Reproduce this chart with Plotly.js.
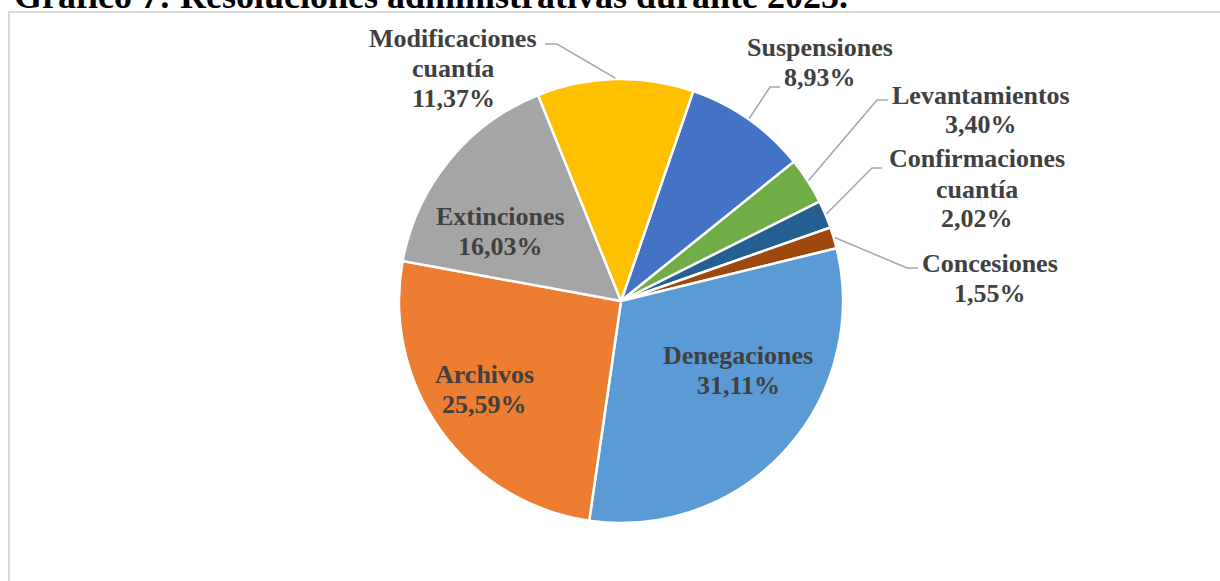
<!DOCTYPE html>
<html>
<head>
<meta charset="utf-8">
<script src="https://cdn.plot.ly/plotly-3.0.1.min.js"></script>
<style>html,body{margin:0;padding:0;background:#fff;}#chart{width:1220px;height:581px;}</style>
</head>
<body>
<div id="chart"></div>
<script>
// ---- data ----
const categories = ['Suspensiones', 'Levantamientos', 'Confirmaciones cuantía', 'Concesiones',
                    'Denegaciones', 'Archivos', 'Extinciones', 'Modificaciones cuantía'];
const values = [8.93, 3.40, 2.02, 1.55, 31.11, 25.59, 16.03, 11.37];
const titleText = 'Gráfico 7: Resoluciones administrativas durante 2025.';

// ---- styles / layout constants ----
const colors = ['#4472C4', '#70AD47', '#255E91', '#9E480E', '#5B9BD5', '#ED7D31', '#A5A5A5', '#FFC000'];
const W = 1220, H = 581;
const CX = 621, CY = 301, R = 222;     // pie centre / radius in px
const ROT = 19;                        // first slice start angle (deg, clockwise from 12 o'clock)
const LINE_GAP = 30;
// label block: centre x, first baseline y
const labelPos = [
  [820, 57], [981, 104], [977, 168], [990, 272],
  [738, 364], [484, 383], [500, 225], [453, 47]
];
// leader line elbows (null = inside label)
const elbows = [
  [[780, 87], [770, 87]],
  [[888, 100], [877, 100]],
  [[882, 168], [872, 168]],
  [[918, 268], [907, 268]],
  null, null, null,
  [[545, 44], [557, 44]]
];

const px = x => x / W;
const py = y => 1 - y / H;
const pct = v => v.toFixed(2).replace('.', ',') + '%';
const LABEL_FONT = {family: 'Liberation Serif, Times New Roman, serif', size: 26, color: '#404040', weight: 'bold'};

const trace = {
  type: 'pie',
  labels: categories,
  values: values,
  sort: false,
  direction: 'clockwise',
  rotation: ROT,
  textinfo: 'none',
  hoverinfo: 'none',
  marker: {colors: colors, line: {color: '#ffffff', width: 2.5}},
  domain: {x: [px(CX - R), px(CX + R)], y: [py(CY + R), py(CY - R)]},
  showlegend: false
};

const annotations = [];
const shapes = [];

// title (partially cut at the top, as in the reference)
annotations.push({
  text: '<b>' + titleText + '</b>', xref: 'paper', yref: 'paper',
  x: px(12), y: py(8 - 12), xanchor: 'left', yanchor: 'middle', showarrow: false,
  font: {family: 'Liberation Serif, Times New Roman, serif', size: 36, color: '#000000'}
});

// frame
shapes.push({type: 'rect', xref: 'paper', yref: 'paper', x0: px(9), x1: 1.2, y0: -0.2, y1: py(12),
  line: {color: '#d9d9d9', width: 2}, fillcolor: 'rgba(0,0,0,0)'});

const total = values.reduce((a, b) => a + b, 0);
let cum = 0;
values.forEach((v, i) => {
  const lines = categories[i].split(' ').concat([pct(v)]);
  const [lx, ly] = labelPos[i];
  lines.forEach((t, k) => {
    annotations.push({
      text: '<b>' + t + '</b>', xref: 'paper', yref: 'paper',
      x: px(lx), y: py(ly + k * LINE_GAP - 9), xanchor: 'center', yanchor: 'middle',
      showarrow: false, font: LABEL_FONT
    });
  });
  const mid = (ROT + (cum + v / 2) / total * 360) * Math.PI / 180;
  if (elbows[i]) {
    const ex = CX + (R + 1) * Math.sin(mid), ey = CY - (R + 1) * Math.cos(mid);
    const pts = elbows[i].concat([[ex, ey]]);
    let path = 'M ' + px(pts[0][0]) + ' ' + py(pts[0][1]);
    for (let k = 1; k < pts.length; k++) path += ' L ' + px(pts[k][0]) + ' ' + py(pts[k][1]);
    shapes.push({type: 'path', xref: 'paper', yref: 'paper', path: path,
      line: {color: '#a6a6a6', width: 1.5}});
  }
  cum += v;
});

const layout = {
  width: W, height: H,
  margin: {l: 0, r: 0, t: 0, b: 0},
  paper_bgcolor: '#ffffff', plot_bgcolor: '#ffffff',
  showlegend: false,
  annotations: annotations,
  shapes: shapes
};

Plotly.newPlot('chart', [trace], layout, {displayModeBar: false, staticPlot: true});
</script>
</body>
</html>
